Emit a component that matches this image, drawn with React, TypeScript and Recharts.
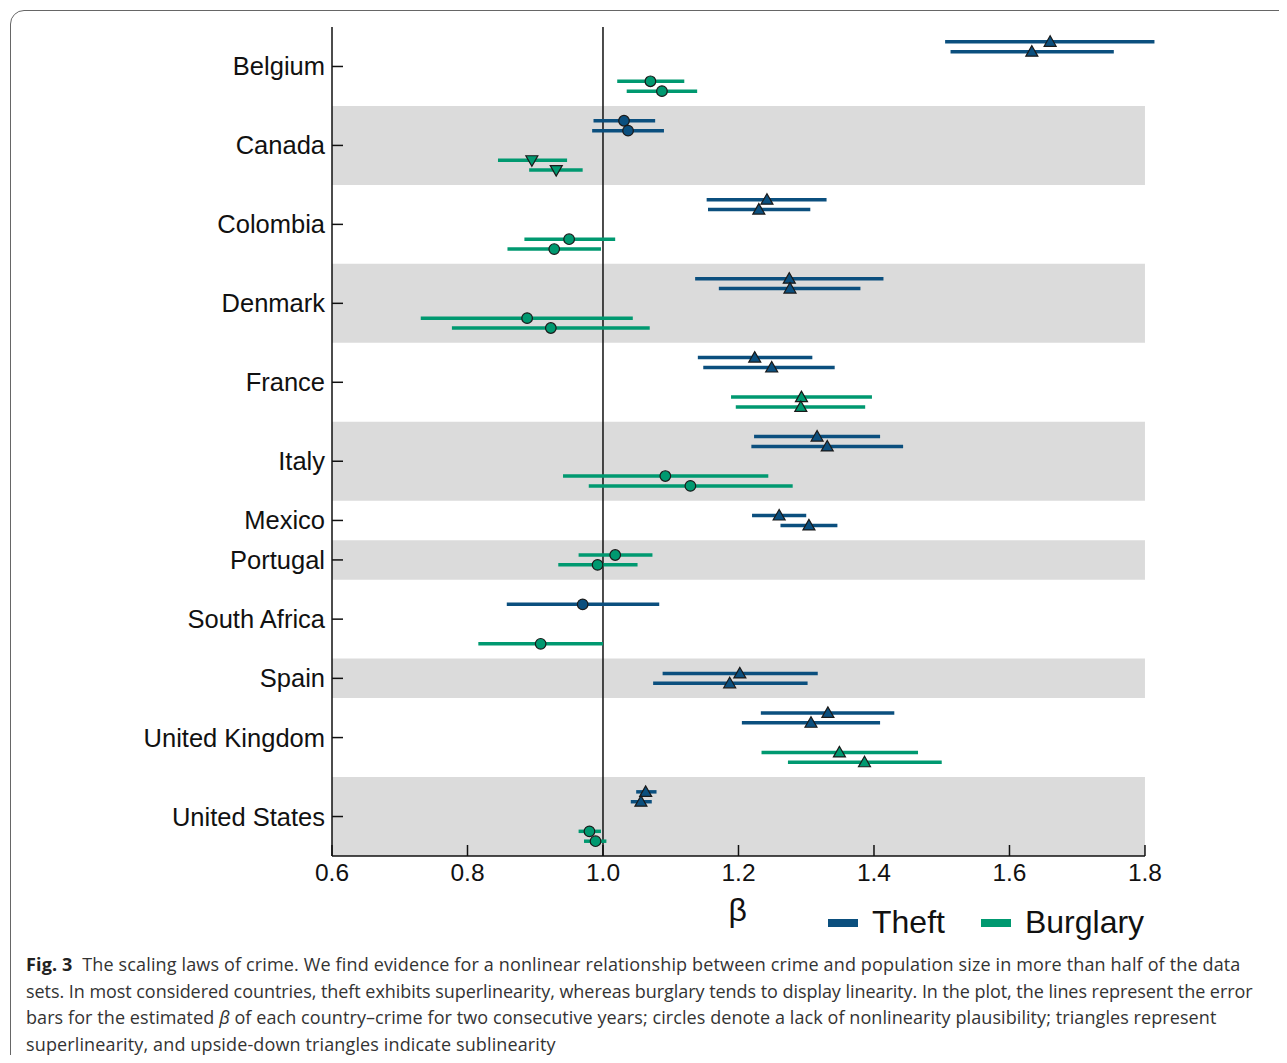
import React from 'react'
import {
  ErrorBar,
  Legend,
  ReferenceArea,
  ReferenceLine,
  Scatter,
  ScatterChart,
  XAxis,
  YAxis,
} from 'recharts'

const countries = [
  'Belgium',
  'Canada',
  'Colombia',
  'Denmark',
  'France',
  'Italy',
  'Mexico',
  'Portugal',
  'South Africa',
  'Spain',
  'United Kingdom',
  'United States',
]

// two consecutive years per country, null = not in the figure
const theftBeta1 = [1.66, 1.031, 1.242, 1.275, 1.224, 1.316, 1.26, null, null, 1.202, 1.332, 1.063]
const theftLow1 = [1.505, 0.986, 1.153, 1.136, 1.14, 1.223, 1.22, null, null, 1.088, 1.233, 1.049]
const theftHigh1 = [1.814, 1.077, 1.33, 1.414, 1.309, 1.409, 1.3, null, null, 1.317, 1.43, 1.079]
const theftBeta2 = [1.633, 1.037, 1.23, 1.276, 1.249, 1.331, 1.304, null, 0.97, 1.187, 1.307, 1.056]
const theftLow2 = [1.513, 0.984, 1.155, 1.171, 1.148, 1.219, 1.262, null, 0.858, 1.074, 1.205, 1.041]
const theftHigh2 = [1.754, 1.09, 1.306, 1.38, 1.342, 1.443, 1.346, null, 1.083, 1.302, 1.409, 1.072]
const theftMark = ['up', 'circle', 'up', 'up', 'up', 'up', 'up', null, 'circle', 'up', 'up', 'up']

const burglaryBeta1 = [1.07, 0.895, 0.95, 0.888, 1.293, 1.092, null, 1.018, null, null, 1.349, 0.98]
const burglaryLow1 = [1.021, 0.845, 0.884, 0.731, 1.189, 0.941, null, 0.964, null, null, 1.234, 0.964]
const burglaryHigh1 = [1.12, 0.947, 1.018, 1.044, 1.397, 1.244, null, 1.073, null, null, 1.465, 0.997]
const burglaryBeta2 = [1.087, 0.931, 0.928, 0.923, 1.292, 1.129, null, 0.992, 0.908, null, 1.386, 0.989]
const burglaryLow2 = [1.035, 0.891, 0.859, 0.777, 1.196, 0.979, null, 0.934, 0.816, null, 1.273, 0.972]
const burglaryHigh2 = [1.139, 0.97, 0.997, 1.069, 1.387, 1.28, null, 1.051, 1.0, null, 1.5, 1.005]
const burglaryMark = ['circle', 'down', 'circle', 'circle', 'up', 'circle', null, 'circle', 'circle', null, 'up', 'circle']

const seriesNames = ['Theft', 'Burglary']
const xTicks = [0.6, 0.8, 1.0, 1.2, 1.4, 1.6, 1.8]

const THEFT = '#0b4f7e'
const BURGLARY = '#009970'
const BAND = '#dbdbdb'
const FONT = '"Liberation Sans", Arial, sans-serif'

// band layout: 8 rows when both crimes are shown, 4 otherwise
const bands: { name: string; start: number; end: number }[] = []
const theftData: any[] = []
const burglaryData: any[] = []
let pos = 0
countries.forEach((name, i) => {
  const hasT = theftMark[i] !== null
  const hasB = burglaryMark[i] !== null
  const size = hasT && hasB ? 8 : 4
  const add = (arr: any[], b: any, lo: any, hi: any, y: number, mark: any) => {
    if (b === null) return
    arr.push({ x: b, y, err: [b - lo, hi - b], mark, country: name })
  }
  if (hasT) {
    add(theftData, theftBeta1[i], theftLow1[i], theftHigh1[i], pos + 1.5, theftMark[i])
    add(theftData, theftBeta2[i], theftLow2[i], theftHigh2[i], pos + 2.5, theftMark[i])
  }
  if (hasB) {
    const off = hasT ? 4 : 0
    add(burglaryData, burglaryBeta1[i], burglaryLow1[i], burglaryHigh1[i], pos + off + 1.5, burglaryMark[i])
    add(burglaryData, burglaryBeta2[i], burglaryLow2[i], burglaryHigh2[i], pos + off + 2.5, burglaryMark[i])
  }
  bands.push({ name, start: pos, end: pos + size })
  pos += size
})
const total = pos
const yTicks = bands.map((b) => (b.start + b.end) / 2)

const Marker = (props: any) => {
  const { cx, cy, fill, payload } = props
  const st = { fill, stroke: '#1a1a1a', strokeWidth: 1.2 }
  if (payload.mark === 'circle') return <circle cx={cx} cy={cy} r={5.3} {...st} />
  if (payload.mark === 'down')
    return <polygon points={`${cx},${cy + 6} ${cx - 6},${cy - 4.5} ${cx + 6},${cy - 4.5}`} {...st} />
  return <polygon points={`${cx},${cy - 6} ${cx - 6},${cy + 4.5} ${cx + 6},${cy + 4.5}`} {...st} />
}

const CountryTick = (props: any) => {
  const { x, y, payload } = props
  const b = bands.find((d) => (d.start + d.end) / 2 === payload.value)
  return (
    <g>
      <text x={x} y={y} dy={9} textAnchor='end' fontSize={25.5} fontFamily={FONT} fill='#111'>
        {b ? b.name : ''}
      </text>
      <line x1={x + 7} x2={x + 18} y1={y} y2={y} stroke='#111' strokeWidth={1.5} />
    </g>
  )
}

const BetaTick = (props: any) => {
  const { x, y, payload } = props
  return (
    <g>
      <line x1={x} x2={x} y1={y - 11} y2={y} stroke='#111' strokeWidth={1.5} />
      <text x={x} y={y + 25} textAnchor='middle' fontSize={24.5} fontFamily={FONT} fill='#111'>
        {payload.value.toFixed(1)}
      </text>
    </g>
  )
}

const LegendBox = (props: any) => {
  const items = [...(props.payload || [])].sort(
    (a: any, b: any) => seriesNames.indexOf(a.value) - seriesNames.indexOf(b.value)
  )
  return (
    <div style={{ display: 'flex', alignItems: 'center', fontFamily: FONT, fontSize: 32, color: '#111' }}>
      {items.map((p: any) => (
        <div key={p.value} style={{ display: 'flex', alignItems: 'center', marginRight: 36 }}>
          <span style={{ width: 30, height: 8, background: p.color, marginRight: 14, display: 'inline-block' }} />
          <span>{p.value}</span>
        </div>
      ))}
    </div>
  )
}

export default function App() {
  return (
    <div style={{ position: 'relative', width: 1287, height: 1063, margin: -8, overflow: 'hidden', background: '#fff' }}>
      <style>{'body{overflow:hidden}'}</style>
      <div
        style={{
          position: 'absolute',
          left: 10,
          top: 10,
          width: 1300,
          height: 1070,
          border: '1.5px solid #666',
          borderRadius: 14,
          boxSizing: 'border-box',
        }}
      />
      <div style={{ position: 'absolute', left: 0, top: 0 }}>
        <ScatterChart width={1287} height={955} margin={{ top: 27, right: 121.7, bottom: 24, left: 0 }}>
          {bands.map((b, i) =>
            i % 2 === 1 ? (
              <ReferenceArea key={b.name} x1={0.6} x2={1.8} y1={b.start} y2={b.end} fill={BAND} fillOpacity={1} stroke='none' />
            ) : null
          )}
          <XAxis
            type='number'
            dataKey='x'
            domain={[0.6, 1.83]}
            ticks={xTicks}
            axisLine={false}
            tickLine={false}
            tickSize={0}
            tickMargin={0}
            tick={<BetaTick />}
            height={75}
            interval={0}
            label={{ value: 'β', position: 'insideBottom', offset: 10, dx: -11, fontSize: 32, fontFamily: FONT, fill: '#111' }}
          />
          <YAxis
            type='number'
            dataKey='y'
            domain={[0, total]}
            reversed
            ticks={yTicks}
            interval={0}
            width={332}
            axisLine={{ stroke: '#111', strokeWidth: 1.5 }}
            tickLine={false}
            tickSize={7}
            tickMargin={0}
            tick={<CountryTick />}
          />
          <ReferenceLine
            segment={[
              { x: 0.6, y: total },
              { x: 1.8, y: total },
            ]}
            stroke='#111'
            strokeWidth={1.5}
          />
          <ReferenceLine x={1} stroke='#111' strokeWidth={1.5} />
          <Scatter name='Theft' data={theftData} fill={THEFT} shape={<Marker />} isAnimationActive={false}>
            <ErrorBar dataKey='err' direction='x' width={0} stroke={THEFT} strokeWidth={3.5} isAnimationActive={false} />
          </Scatter>
          <Scatter name='Burglary' data={burglaryData} fill={BURGLARY} shape={<Marker />} isAnimationActive={false}>
            <ErrorBar dataKey='err' direction='x' width={0} stroke={BURGLARY} strokeWidth={3.5} isAnimationActive={false} />
          </Scatter>
          <Legend
            verticalAlign='middle'
            align='center'
            content={<LegendBox />}
            wrapperStyle={{ top: 904, left: 828, width: 380, height: 42 }}
          />
        </ScatterChart>
      </div>
      <div
        style={{
          position: 'absolute',
          left: 26,
          top: 951,
          fontFamily: '"Open Sans", sans-serif',
          fontSize: 18,
          lineHeight: '26.5px',
          color: '#333',
          whiteSpace: 'nowrap',
        }}
      >
        <div style={{ letterSpacing: 0.15 }}>
          <b style={{ color: '#222' }}>Fig. 3</b>&nbsp; The scaling laws of crime. We find evidence for a nonlinear relationship between crime and population size in more than half of the data
        </div>
        <div style={{ letterSpacing: -0.05 }}>
          sets. In most considered countries, theft exhibits superlinearity, whereas burglary tends to display linearity. In the plot, the lines represent the error
        </div>
        <div style={{ letterSpacing: 0.08 }}>
          bars for the estimated <i>β</i> of each country–crime for two consecutive years; circles denote a lack of nonlinearity plausibility; triangles represent
        </div>
        <div style={{ letterSpacing: 0.13 }}>superlinearity, and upside-down triangles indicate sublinearity</div>
      </div>
    </div>
  )
}
